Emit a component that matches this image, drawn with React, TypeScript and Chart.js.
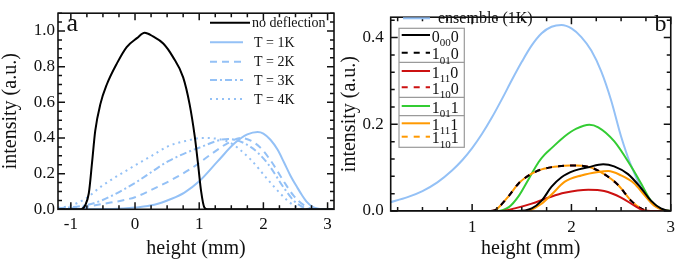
import { useEffect, useRef } from "react";
import { Chart, registerables } from "chart.js";

Chart.register(...registerables);

const FAMILY = "'Liberation Serif', 'Times New Roman', serif";
const BLUE = "#94c1f6";
const RED = "#cc1111";
const GREEN = "#33cc33";
const ORANGE = "#ff9900";
const BLACK = "#000000";

// ---------- Panel a ----------
const A_X_TICKS = [-1, 0, 1, 2, 3];
const A_Y_TICKS = [0, 0.2, 0.4, 0.6, 0.8, 1.0];

const A_NODEF_X = [-1.2, -0.84, -0.78, -0.72, -0.67, -0.62, -0.54, -0.44, -0.28, -0.13, 0.03, 0.15, 0.28, 0.44, 0.59, 0.75, 0.85, 0.93, 0.98, 1.03, 1.08, 1.13, 3.2];
const A_NODEF_Y = [0, 0, 0.02, 0.09, 0.26, 0.44, 0.59, 0.7, 0.82, 0.91, 0.96, 0.99, 0.97, 0.93, 0.855, 0.74, 0.59, 0.41, 0.26, 0.1, 0.01, 0, 0];

const A_T1_X = [-1.2, -0.6, -0.18, 0.0, 0.3, 0.57, 0.77, 1.0, 1.29, 1.55, 1.75, 1.91, 2.0, 2.11, 2.22, 2.32, 2.42, 2.53, 2.6, 2.68, 2.76, 2.84, 2.92, 3.2];
const A_T1_Y = [0, 0.001, 0.005, 0.01, 0.025, 0.059, 0.094, 0.157, 0.27, 0.37, 0.42, 0.434, 0.425, 0.39, 0.335, 0.264, 0.19, 0.121, 0.08, 0.04, 0.015, 0.004, 0, 0];

const A_T2_X = [-1.2, -0.8, -0.52, 0.0, 0.26, 0.57, 0.88, 1.19, 1.44, 1.65, 1.91, 2.11, 2.32, 2.47, 2.63, 2.78, 3.2];
const A_T2_Y = [0.003, 0.012, 0.029, 0.068, 0.11, 0.165, 0.23, 0.31, 0.37, 0.4, 0.36, 0.275, 0.155, 0.077, 0.023, 0.002, 0];

const A_T3_X = [-1.2, -0.77, -0.52, 0.0, 0.26, 0.52, 1.03, 1.45, 1.8, 2.06, 2.32, 2.47, 2.63, 2.75, 3.2];
const A_T3_Y = [0.005, 0.023, 0.05, 0.148, 0.21, 0.27, 0.35, 0.395, 0.35, 0.26, 0.12, 0.05, 0.01, 0, 0];

const A_T4_X = [-1.2, -1.03, -0.77, -0.52, 0.0, 0.26, 0.52, 0.82, 1.03, 1.44, 1.8, 2.06, 2.32, 2.47, 2.6, 3.2];
const A_T4_Y = [0.008, 0.018, 0.06, 0.13, 0.246, 0.3, 0.354, 0.386, 0.4, 0.38, 0.28, 0.17, 0.068, 0.023, 0.003, 0];

// ---------- Panel b ----------
const B_X_TICKS = [1, 2, 3];
const B_Y_TICKS = [0, 0.2, 0.4];

const B_ENS_X = [0.1, 0.175, 0.35, 0.5, 0.65, 0.8, 0.9, 1.0, 1.1, 1.2, 1.3, 1.4, 1.5, 1.6, 1.7, 1.8, 1.9, 2.0, 2.1, 2.2, 2.3, 2.4, 2.5, 2.6, 2.7, 2.8, 2.9, 3.0, 3.1];
const B_ENS_Y = [0.015, 0.02, 0.032, 0.046, 0.066, 0.094, 0.117, 0.145, 0.178, 0.216, 0.258, 0.302, 0.344, 0.382, 0.41, 0.425, 0.429, 0.421, 0.401, 0.37, 0.322, 0.255, 0.172, 0.105, 0.055, 0.02, 0.004, 0, 0];

const B_000_X = [0.1, 1.45, 1.6, 1.7, 1.8, 1.9, 2.03, 2.17, 2.32, 2.43, 2.57, 2.7, 2.8, 2.9, 3.0, 3.1];
const B_000_Y = [0, 0, 0.006, 0.024, 0.056, 0.078, 0.093, 0.101, 0.108, 0.103, 0.085, 0.053, 0.024, 0.006, 0, 0];

const B_1010_X = [0.1, 1.15, 1.23, 1.27, 1.37, 1.47, 1.57, 1.7, 1.87, 2.03, 2.2, 2.33, 2.47, 2.6, 2.7, 2.77, 3.1];
const B_1010_Y = [0, 0, 0.002, 0.009, 0.035, 0.064, 0.082, 0.096, 0.103, 0.105, 0.1, 0.085, 0.06, 0.024, 0.006, 0, 0];

const B_1110_X = [0.1, 1.3, 1.43, 1.6, 1.77, 1.93, 2.17, 2.33, 2.5, 2.63, 2.73, 2.8, 3.1];
const B_1110_Y = [0, 0, 0.006, 0.017, 0.031, 0.042, 0.049, 0.046, 0.031, 0.013, 0.001, 0, 0];

const B_1100_X = [0.1, 1.15, 1.23, 1.27, 1.37, 1.47, 1.57, 1.7, 1.87, 2.03, 2.2, 2.33, 2.47, 2.6, 2.7, 2.77, 3.1];
const B_1100_Y = [0, 0, 0.002, 0.009, 0.035, 0.064, 0.082, 0.096, 0.103, 0.105, 0.1, 0.085, 0.06, 0.024, 0.006, 0, 0];

const B_1011_X = [0.1, 1.25, 1.37, 1.47, 1.57, 1.67, 1.73, 1.8, 1.93, 2.05, 2.18, 2.27, 2.43, 2.6, 2.7, 2.8, 2.9, 3.0, 3.1];
const B_1011_Y = [0, 0, 0.009, 0.035, 0.074, 0.113, 0.13, 0.145, 0.172, 0.19, 0.199, 0.193, 0.161, 0.103, 0.064, 0.024, 0.005, 0, 0];

const B_1111_X = [0.1, 1.55, 1.7, 1.8, 1.93, 2.1, 2.27, 2.37, 2.5, 2.63, 2.73, 2.83, 2.93, 3.0, 3.1];
const B_1111_Y = [0, 0, 0.017, 0.038, 0.067, 0.082, 0.09, 0.092, 0.082, 0.064, 0.038, 0.013, 0.002, 0, 0];

const B_1101_X = [0.1, 1.15, 1.23, 1.27, 1.37, 1.47, 1.57, 1.7, 1.87, 2.03, 2.2, 2.33, 2.47, 2.6, 2.7, 2.77, 3.1];
const B_1101_Y = [0, 0, 0.002, 0.009, 0.035, 0.064, 0.082, 0.096, 0.103, 0.105, 0.1, 0.085, 0.06, 0.024, 0.006, 0, 0];

// legend labels for panel b: [base, subscript, tail]
const B_LEGEND: string[][] = [
  ["0", "00", "0"],
  ["1", "01", "0"],
  ["1", "11", "0"],
  ["1", "10", "0"],
  ["1", "01", "1"],
  ["1", "11", "1"],
  ["1", "10", "1"],
];

function pts(xs: number[], ys: number[]) {
  return xs.map((x, i) => ({ x, y: ys[i] }));
}

function font(size: number) {
  return `${size}px ${FAMILY}`;
}

function decorPlugin(opts: {
  xMinor: number;
  xMajor: number;
  yMinor: number;
  yMajor: number;
  draw: (ctx: CanvasRenderingContext2D, chart: any) => void;
}) {
  return {
    id: "decor",
    afterDraw(chart: any) {
      const ctx: CanvasRenderingContext2D = chart.ctx;
      const { left, right, top, bottom } = chart.chartArea;
      const xs = chart.scales.x;
      const ys = chart.scales.y;
      const xMin = xs.options.min, xMax = xs.options.max;
      const yMin = ys.options.min, yMax = ys.options.max;
      ctx.save();
      ctx.strokeStyle = "#111111";
      ctx.lineWidth = 1.5;
      ctx.setLineDash([]);
      const isMajor = (v: number, m: number) => Math.abs(v / m - Math.round(v / m)) < 1e-6;
      const k0 = Math.ceil(xMin / opts.xMinor - 1e-9);
      const k1 = Math.floor(xMax / opts.xMinor + 1e-9);
      for (let k = k0; k <= k1; k++) {
        const v = k * opts.xMinor;
        const len = isMajor(v, opts.xMajor) ? 7 : 4;
        const p = xs.getPixelForValue(v);
        ctx.beginPath();
        ctx.moveTo(p, bottom);
        ctx.lineTo(p, bottom - len);
        ctx.moveTo(p, top);
        ctx.lineTo(p, top + len);
        ctx.stroke();
      }
      const j0 = Math.ceil(yMin / opts.yMinor - 1e-9);
      const j1 = Math.floor(yMax / opts.yMinor + 1e-9);
      for (let k = j0; k <= j1; k++) {
        const v = k * opts.yMinor;
        const len = isMajor(v, opts.yMajor) ? 7 : 4;
        const p = ys.getPixelForValue(v);
        ctx.beginPath();
        ctx.moveTo(left, p);
        ctx.lineTo(left + len, p);
        ctx.moveTo(right, p);
        ctx.lineTo(right - len, p);
        ctx.stroke();
      }
      ctx.lineWidth = 1.6;
      ctx.strokeRect(left, top, right - left, bottom - top);
      opts.draw(ctx, chart);
      ctx.restore();
    },
  };
}

function sampleLine(ctx: CanvasRenderingContext2D, ds: any, x1: number, x2: number, y: number) {
  ctx.save();
  ctx.strokeStyle = ds.borderColor;
  ctx.lineWidth = ds.borderWidth;
  ctx.setLineDash(ds.borderDash || []);
  ctx.beginPath();
  ctx.moveTo(x1, y);
  ctx.lineTo(x2, y);
  ctx.stroke();
  ctx.restore();
}

function PanelA() {
  const ref = useRef<HTMLCanvasElement>(null);
  useEffect(() => {
    const datasets = [
      { label: "no deflection", data: pts(A_NODEF_X, A_NODEF_Y), borderColor: BLACK, borderWidth: 2, borderDash: [], order: 0 },
      { label: "T = 1K", data: pts(A_T1_X, A_T1_Y), borderColor: BLUE, borderWidth: 2, borderDash: [], order: 1 },
      { label: "T = 2K", data: pts(A_T2_X, A_T2_Y), borderColor: BLUE, borderWidth: 2, borderDash: [7, 5], order: 2 },
      { label: "T = 3K", data: pts(A_T3_X, A_T3_Y), borderColor: BLUE, borderWidth: 2, borderDash: [7, 3, 2, 3], order: 3 },
      { label: "T = 4K", data: pts(A_T4_X, A_T4_Y), borderColor: BLUE, borderWidth: 2, borderDash: [2, 4], order: 4 },
    ];
    const legendY = [22.7, 42.3, 61.7, 80, 99];
    const chart = new Chart(ref.current!, {
      type: "line",
      data: { datasets },
      options: {
        animation: false,
        responsive: false,
        maintainAspectRatio: false,
        layout: { padding: { left: 0, right: 6, top: 3.5, bottom: 0 } },
        elements: { point: { radius: 0 }, line: { cubicInterpolationMode: "monotone", fill: false } },
        plugins: { legend: { display: false }, tooltip: { enabled: false } },
        scales: {
          x: {
            type: "linear",
            min: -1.2,
            max: 3.1,
            afterFit: (s: any) => { s.height = 51.7; },
            afterBuildTicks: (s: any) => { s.ticks = A_X_TICKS.map((v) => ({ value: v })); },
            grid: { display: false, drawTicks: false },
            border: { display: false },
            ticks: { font: { family: FAMILY, size: 17 }, color: "#111", padding: 5, maxRotation: 0, callback: (v: any) => String(v) },
            title: { display: true, text: "height (mm)", color: "#111", font: { family: FAMILY, size: 20, lineHeight: 1.2 }, padding: { top: 0, bottom: 0 } },
          },
          y: {
            type: "linear",
            min: 0,
            max: 1.1,
            afterFit: (s: any) => { s.width = 58; },
            afterBuildTicks: (s: any) => { s.ticks = A_Y_TICKS.map((v) => ({ value: v })); },
            grid: { display: false, drawTicks: false },
            border: { display: false },
            ticks: { font: { family: FAMILY, size: 17 }, color: "#111", padding: 3, callback: (v: any) => Number(v).toFixed(1) },
            title: { display: true, text: "intensity (a.u.)", color: "#111", font: { family: FAMILY, size: 20, lineHeight: 1.1 }, padding: { top: 0, bottom: 0 } },
          },
        },
      } as any,
      plugins: [
        decorPlugin({
          xMinor: 0.25, xMajor: 1, yMinor: 0.05, yMajor: 0.2,
          draw: (ctx, ch) => {
            ctx.fillStyle = "#111";
            ctx.textBaseline = "alphabetic";
            ctx.textAlign = "left";
            ctx.font = font(26);
            ctx.fillText("a", 66.5, 30.7);
            const ds = ch.data.datasets;
            ds.forEach((d: any, i: number) => {
              const y = legendY[i];
              const x2 = i === 0 ? 250 : 243;
              sampleLine(ctx, d, 210, x2, y);
              ctx.font = font(14);
              ctx.textBaseline = "middle";
              ctx.fillStyle = "#111";
              ctx.fillText(d.label, i === 0 ? 252 : 254, y + 1);
            });
          },
        }) as any,
      ],
    });
    return () => chart.destroy();
  }, []);
  return <canvas ref={ref} width={340} height={261} style={{ position: "absolute", left: 0, top: 0, width: 340, height: 261 }} />;
}

function PanelB() {
  const ref = useRef<HTMLCanvasElement>(null);
  useEffect(() => {
    const datasets = [
      { label: "ensemble (1K)", data: pts(B_ENS_X, B_ENS_Y), borderColor: BLUE, borderWidth: 2, borderDash: [], order: 10 },
      { label: "0_00_0", data: pts(B_000_X, B_000_Y), borderColor: BLACK, borderWidth: 2, borderDash: [], order: 1 },
      { label: "1_01_0", data: pts(B_1010_X, B_1010_Y), borderColor: BLACK, borderWidth: 2, borderDash: [6, 6], order: 7 },
      { label: "1_11_0", data: pts(B_1110_X, B_1110_Y), borderColor: RED, borderWidth: 2, borderDash: [], order: 3 },
      { label: "1_10_0", data: pts(B_1100_X, B_1100_Y), borderColor: RED, borderWidth: 2, borderDash: [6, 6], order: 8 },
      { label: "1_01_1", data: pts(B_1011_X, B_1011_Y), borderColor: GREEN, borderWidth: 2, borderDash: [], order: 9 },
      { label: "1_11_1", data: pts(B_1111_X, B_1111_Y), borderColor: ORANGE, borderWidth: 2, borderDash: [], order: 2 },
      { label: "1_10_1", data: pts(B_1101_X, B_1101_Y), borderColor: ORANGE, borderWidth: 2, borderDash: [6, 6], borderDashOffset: 6, order: 6 },
    ];
    const legendY = [35, 52.7, 71, 87.3, 106, 123.3, 136.7];
    const chart = new Chart(ref.current!, {
      type: "line",
      data: { datasets },
      options: {
        animation: false,
        responsive: false,
        maintainAspectRatio: false,
        layout: { padding: { left: 0, right: 7.5, top: 5, bottom: 0 } },
        elements: { point: { radius: 0 }, line: { cubicInterpolationMode: "monotone", fill: false } },
        plugins: { legend: { display: false }, tooltip: { enabled: false } },
        scales: {
          x: {
            type: "linear",
            min: 0.18,
            max: 3.0,
            afterFit: (s: any) => { s.height = 50; },
            afterBuildTicks: (s: any) => { s.ticks = B_X_TICKS.map((v) => ({ value: v })); },
            grid: { display: false, drawTicks: false },
            border: { display: false },
            ticks: { font: { family: FAMILY, size: 17 }, color: "#111", padding: 6, maxRotation: 0, callback: (v: any) => String(v) },
            title: { display: true, text: "height (mm)", color: "#111", font: { family: FAMILY, size: 20, lineHeight: 1.2 }, padding: { top: 0, bottom: 0 } },
          },
          y: {
            type: "linear",
            min: 0,
            max: 0.447,
            afterFit: (s: any) => { s.width = 50.7; },
            afterBuildTicks: (s: any) => { s.ticks = B_Y_TICKS.map((v) => ({ value: v })); },
            grid: { display: false, drawTicks: false },
            border: { display: false },
            ticks: { font: { family: FAMILY, size: 17 }, color: "#111", padding: 7, callback: (v: any) => Number(v).toFixed(1) },
            title: { display: true, text: "intensity (a.u.)", color: "#111", font: { family: FAMILY, size: 20, lineHeight: 1.0 }, padding: { top: 0, bottom: 0 } },
          },
        },
      } as any,
      plugins: [
        decorPlugin({
          xMinor: 0.25, xMajor: 1, yMinor: 0.04, yMajor: 0.2,
          draw: (ctx, ch) => {
            const ds = ch.data.datasets;
            ctx.fillStyle = "#111";
            ctx.textAlign = "left";
            ctx.textBaseline = "alphabetic";
            ctx.font = font(24);
            ctx.fillText("b", 314.5, 30.7);
            // ensemble entry
            sampleLine(ctx, ds[0], 63, 90, 18.3);
            ctx.fillStyle = "#111";
            ctx.font = font(16);
            ctx.textBaseline = "middle";
            ctx.fillText(ds[0].label, 98, 18.8);
            // boxed legend
            ctx.fillStyle = "#ffffff";
            ctx.fillRect(59, 28.3, 65.3, 119);
            ctx.strokeStyle = "#9a9a9a";
            ctx.lineWidth = 1.2;
            ctx.setLineDash([]);
            ctx.strokeRect(59, 28.3, 65.3, 119);
            ctx.beginPath();
            [62.3, 97.3, 115.7].forEach((y) => { ctx.moveTo(59, y); ctx.lineTo(124.3, y); });
            ctx.stroke();
            B_LEGEND.forEach((parts, i) => {
              const d = ds[i + 1];
              const y = legendY[i];
              sampleLine(ctx, d, 61.7, 90, y);
              ctx.fillStyle = "#111";
              ctx.textBaseline = "alphabetic";
              let x = 91.7;
              ctx.font = font(16);
              ctx.fillText(parts[0], x, y + 6.5);
              x += ctx.measureText(parts[0]).width;
              ctx.font = font(11);
              ctx.fillText(parts[1], x, y + 11);
              x += ctx.measureText(parts[1]).width;
              ctx.font = font(16);
              ctx.fillText(parts[2], x, y + 6.5);
            });
          },
        }) as any,
      ],
    });
    return () => chart.destroy();
  }, []);
  return <canvas ref={ref} width={341} height={261} style={{ position: "absolute", left: 340, top: 0, width: 341, height: 261 }} />;
}

export default function App() {
  return (
    <div style={{ position: "absolute", left: 0, top: 0, width: 681, height: 261, background: "#fff", overflow: "hidden" }}>
      <PanelA />
      <PanelB />
    </div>
  );
}
